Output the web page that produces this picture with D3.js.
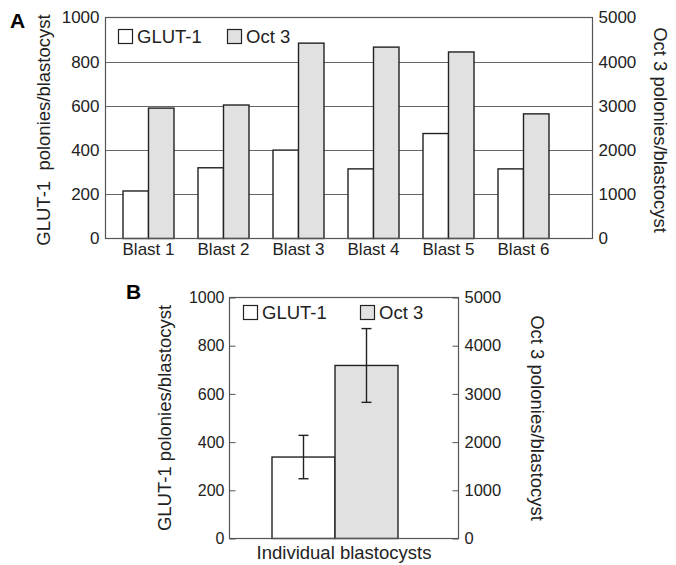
<!DOCTYPE html>
<html>
<head>
<meta charset="utf-8">
<script src="https://cdn.jsdelivr.net/npm/d3@7"></script>
<style>
  body { margin: 0; background: #fff; }
  svg text { font-family: "Liberation Sans", Arial, Helvetica, sans-serif; fill: #222; }
  .axis path { display: none; }
  .axis line { stroke: #555; }
</style>
</head>
<body>
<div id="chart"></div>
<script>
// data
var blasts = ["Blast 1", "Blast 2", "Blast 3", "Blast 4", "Blast 5", "Blast 6"];
var series = ["GLUT-1", "Oct 3"];
var glutValues = [215, 320, 400, 315, 475, 315];     // left axis
var oct3Values = [2950, 3020, 4420, 4330, 4220, 2820]; // right axis
var leftTicks = [0, 200, 400, 600, 800, 1000];
var rightTicks = [0, 1000, 2000, 3000, 4000, 5000];

// panel B: mean and error (half-range)
var meanValues = [338, 3590];
var errValues = [90, 765];

var fills = { "GLUT-1": "#ffffff", "Oct 3": "#e1e1e1" };
var fmt = d3.format("d");

var svg = d3.select("#chart").append("svg").attr("width", 676).attr("height", 565);

// ---------------- Panel A ----------------
var A = { left: 105.5, right: 592.5, top: 17.5, bottom: 238.5 };

var yA = d3.scaleLinear().domain([0, 1000]).range([A.bottom, A.top]);
var yA2 = d3.scaleLinear().domain([0, 5000]).range([A.bottom, A.top]);
var xA = d3.scaleBand().domain(blasts).range([111, 561]).paddingInner(0.32).paddingOuter(0.16);
var xSub = d3.scaleBand().domain(series).range([0, xA.bandwidth()]);

var gA = svg.append("g");

// gridlines
gA.selectAll(".grid")
  .data(leftTicks.filter(d => d > 0 && d < 1000))
  .enter().append("line")
  .attr("x1", A.left).attr("x2", A.right)
  .attr("y1", d => Math.round(yA(d)) + 0.5).attr("y2", d => Math.round(yA(d)) + 0.5)
  .attr("stroke", "#666").attr("stroke-width", 1);

// bars
var groups = gA.selectAll(".grp")
  .data(blasts)
  .enter().append("g")
  .attr("transform", d => `translate(${xA(d)},0)`);

groups.append("rect")
  .attr("x", xSub("GLUT-1"))
  .attr("width", xSub.bandwidth())
  .attr("y", (d, i) => yA(glutValues[i]))
  .attr("height", (d, i) => A.bottom - yA(glutValues[i]))
  .attr("fill", fills["GLUT-1"]).attr("stroke", "#222").attr("stroke-width", 1.4);

groups.append("rect")
  .attr("x", xSub("Oct 3"))
  .attr("width", xSub.bandwidth())
  .attr("y", (d, i) => yA2(oct3Values[i]))
  .attr("height", (d, i) => A.bottom - yA2(oct3Values[i]))
  .attr("fill", fills["Oct 3"]).attr("stroke", "#222").attr("stroke-width", 1.4);

// frame
gA.append("rect")
  .attr("x", A.left).attr("y", A.top)
  .attr("width", A.right - A.left).attr("height", A.bottom - A.top)
  .attr("fill", "none").attr("stroke", "#555").attr("stroke-width", 1.2);

// axes
gA.append("g").attr("class", "axis")
  .attr("transform", `translate(${A.left},0)`)
  .call(d3.axisLeft(yA).tickValues(leftTicks).tickFormat(fmt).tickSize(0).tickPadding(6))
  .selectAll("text").style("font-size", "17px");

gA.append("g").attr("class", "axis")
  .attr("transform", `translate(${A.right},0)`)
  .call(d3.axisRight(yA2).tickValues(rightTicks).tickFormat(fmt).tickSize(0).tickPadding(6))
  .selectAll("text").style("font-size", "17px");

gA.append("g").attr("class", "axis")
  .attr("transform", `translate(0,${A.bottom})`)
  .call(d3.axisBottom(xA).tickSize(0).tickPadding(4))
  .selectAll("text").style("font-size", "17px");

// axis titles
gA.append("text")
  .attr("transform", `translate(50,${(A.top + A.bottom) / 2 + 2}) rotate(-90)`)
  .attr("text-anchor", "middle")
  .style("font-size", "18.5px")
  .style("white-space", "pre")
  .text("GLUT-1  polonies/blastocyst");

gA.append("text")
  .attr("transform", `translate(654,${(A.top + A.bottom) / 2 + 2}) rotate(90)`)
  .attr("text-anchor", "middle")
  .style("font-size", "18.5px")
  .text("Oct 3 polonies/blastocyst");

// panel letter
gA.append("text").attr("x", 10).attr("y", 28)
  .style("font-size", "21px").style("font-weight", "bold").style("fill", "#000")
  .text("A");

// legend
function legend(g, x0, y0, gap) {
  series.forEach(function(s, i) {
    var lx = x0 + i * gap;
    g.append("rect").attr("x", lx + 0.5).attr("y", y0 + 0.5)
      .attr("width", 14).attr("height", 14)
      .attr("fill", fills[s]).attr("stroke", "#222").attr("stroke-width", 1.2);
    g.append("text").attr("x", lx + 19).attr("y", y0 + 14)
      .style("font-size", "18.5px").text(s);
  });
}
legend(gA, 118, 29, 109);

// ---------------- Panel B ----------------
var B = { left: 229.5, right: 458.5, top: 297.5, bottom: 538.5 };

var yB = d3.scaleLinear().domain([0, 1000]).range([B.bottom, B.top]);
var yB2 = d3.scaleLinear().domain([0, 5000]).range([B.bottom, B.top]);
var xB = d3.scaleBand().domain(series).range([272, 398]);
var yFor = { "GLUT-1": yB, "Oct 3": yB2 };

var gB = svg.append("g");

gB.selectAll(".barB")
  .data(series)
  .enter().append("rect")
  .attr("x", d => xB(d))
  .attr("width", xB.bandwidth())
  .attr("y", (d, i) => yFor[d](meanValues[i]))
  .attr("height", (d, i) => B.bottom - yFor[d](meanValues[i]))
  .attr("fill", d => fills[d]).attr("stroke", "#222").attr("stroke-width", 1.4);

// error bars
var eb = gB.selectAll(".err")
  .data(series)
  .enter().append("g")
  .attr("stroke", "#222").attr("stroke-width", 1.4);

eb.append("line")
  .attr("x1", d => xB(d) + xB.bandwidth() / 2).attr("x2", d => xB(d) + xB.bandwidth() / 2)
  .attr("y1", (d, i) => yFor[d](meanValues[i] - errValues[i]))
  .attr("y2", (d, i) => yFor[d](meanValues[i] + errValues[i]));
eb.append("line")
  .attr("x1", d => xB(d) + xB.bandwidth() / 2 - 5).attr("x2", d => xB(d) + xB.bandwidth() / 2 + 5)
  .attr("y1", (d, i) => yFor[d](meanValues[i] + errValues[i]))
  .attr("y2", (d, i) => yFor[d](meanValues[i] + errValues[i]));
eb.append("line")
  .attr("x1", d => xB(d) + xB.bandwidth() / 2 - 5).attr("x2", d => xB(d) + xB.bandwidth() / 2 + 5)
  .attr("y1", (d, i) => yFor[d](meanValues[i] - errValues[i]))
  .attr("y2", (d, i) => yFor[d](meanValues[i] - errValues[i]));

// frame
gB.append("rect")
  .attr("x", B.left).attr("y", B.top)
  .attr("width", B.right - B.left).attr("height", B.bottom - B.top)
  .attr("fill", "none").attr("stroke", "#555").attr("stroke-width", 1.2);

gB.append("g").attr("class", "axis")
  .attr("transform", `translate(${B.left},0)`)
  .call(d3.axisLeft(yB).tickValues(leftTicks).tickFormat(fmt).tickSizeInner(-6).tickSizeOuter(0).tickPadding(5))
  .selectAll("text").style("font-size", "16px");

gB.append("g").attr("class", "axis")
  .attr("transform", `translate(${B.right},0)`)
  .call(d3.axisRight(yB2).tickValues(rightTicks).tickFormat(fmt).tickSizeInner(-6).tickSizeOuter(0).tickPadding(6))
  .selectAll("text").style("font-size", "16.5px");

gB.append("text")
  .attr("x", (B.left + B.right) / 2).attr("y", 559)
  .attr("text-anchor", "middle")
  .style("font-size", "18.5px")
  .text("Individual blastocysts");

gB.append("text")
  .attr("transform", `translate(171,${(B.top + B.bottom) / 2}) rotate(-90)`)
  .attr("text-anchor", "middle")
  .style("font-size", "18.5px")
  .text("GLUT-1 polonies/blastocyst");

gB.append("text")
  .attr("transform", `translate(531,${(B.top + B.bottom) / 2}) rotate(90)`)
  .attr("text-anchor", "middle")
  .style("font-size", "18.5px")
  .text("Oct 3 polonies/blastocyst");

gB.append("text").attr("x", 126).attr("y", 299)
  .style("font-size", "21px").style("font-weight", "bold").style("fill", "#000")
  .text("B");

legend(gB, 243, 305, 117);
</script>
</body>
</html>
